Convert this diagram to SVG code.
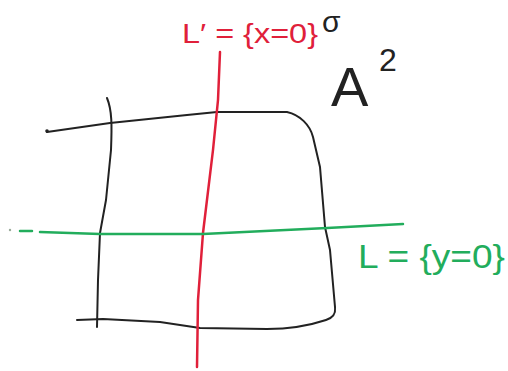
<svg xmlns="http://www.w3.org/2000/svg" width="508" height="371" viewBox="0 0 508 371">
<style>
.ink{fill:none;stroke-linecap:round;stroke-linejoin:round}
.blk{stroke:#222;stroke-width:2}
.red{stroke:#e0203a;stroke-width:2.5}
.grn{stroke:#22ad5c;stroke-width:2.5}
.t{font-family:"Liberation Sans","DejaVu Sans",sans-serif}
</style>
<rect width="508" height="371" fill="#fff"/>
<g id="surface">
<path class="ink blk" d="M47,132 L110,123 L187,115 L217,112 L287,112 C300,115 310,125 313,137 L320,167 L325,227 L330,250 L335,307 C336,315 332,318 326,320 C305,327 285,329 267,329 L200,328 L160,322 L103,319 L77,320"/>
<circle cx="47" cy="131" r="1.8" fill="#222"/>
<path class="ink blk" d="M107,98 C112,110 112,125 111,150 L106,200 L100,233 L98,280 L97,327"/>
</g>
<g id="connectors">
<path id="Lprime" class="ink red" d="M220,52 L218,100 L213,150 L203,233 L198,300 L197,367"/>
<path id="L" class="ink grn" d="M40,232 L100,234 L203,234 L327,228 L403,224"/>
<path class="ink grn" d="M20,231 L32,231" stroke-width="2"/>
<circle cx="10" cy="230" r="1.2" fill="#9a9"/>
</g>
<g id="labels">
<text class="t" x="182" y="43" font-size="28" fill="#e0203a" textLength="136" lengthAdjust="spacingAndGlyphs">L′ = {x=0}</text>
<text class="t" x="322" y="32" font-size="30" fill="#222">σ</text>
<text class="t" x="331" y="106" font-size="56" fill="#222">A</text>
<text class="t" x="379" y="71" font-size="32" fill="#222">2</text>
<text class="t" x="358" y="268" font-size="34" fill="#22ad5c" textLength="147" lengthAdjust="spacingAndGlyphs">L = {y=0}</text>
</g>
</svg>
